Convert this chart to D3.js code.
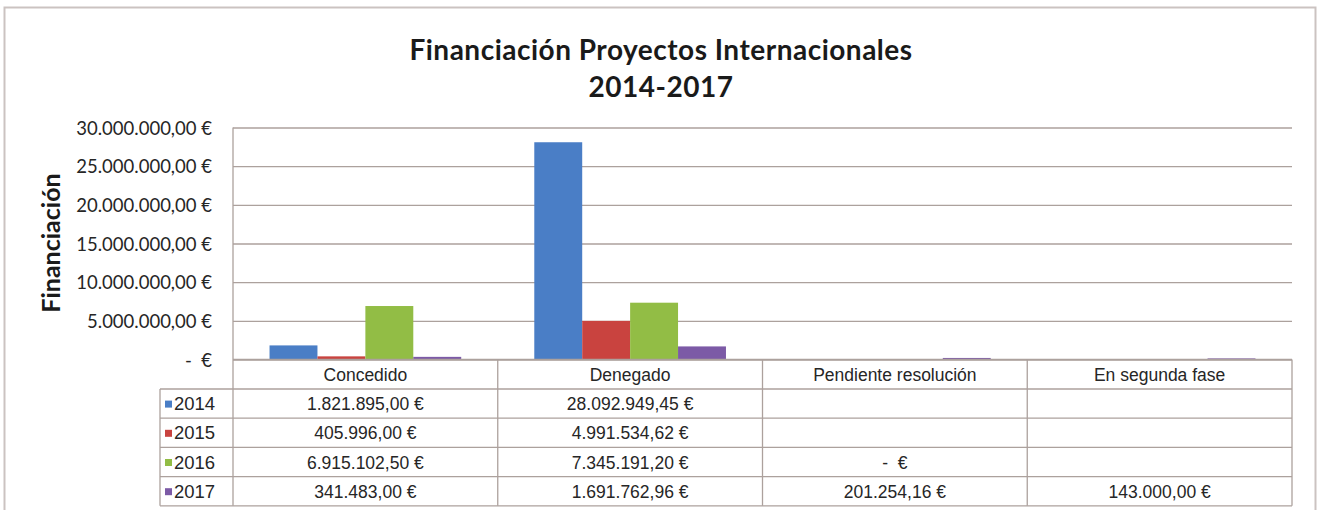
<!DOCTYPE html>
<html>
<head>
<meta charset="utf-8">
<script src="https://cdn.jsdelivr.net/npm/d3@7"></script>
<style>
  body { margin: 0; background: #fff; }
  svg { display: block; }
  text { white-space: pre; }
</style>
</head>
<body>
<svg id="chart"></svg>
<script>
// data
const categories = ["Concedido", "Denegado", "Pendiente resolución", "En segunda fase"];
const years = ["2014", "2015", "2016", "2017"];
const values2014 = [1821895.00, 28092949.45, null, null];
const values2015 = [405996.00, 4991534.62, null, null];
const values2016 = [6915102.50, 7345191.20, 0, null];
const values2017 = [341483.00, 1691762.96, 201254.16, 143000.00];
const yTicks = [0, 5000000, 10000000, 15000000, 20000000, 25000000, 30000000];

const series = [values2014, values2015, values2016, values2017];
const colors = ["#4a7ec6", "#c9433f", "#92bd45", "#7c5aa6"];

const width = 1322, height = 510;
const plotLeft = 233, plotRight = 1292, plotTop = 127.5, plotBottom = 359.5;
const headerBottom = 389, rowH = 29.2;
const gridColor = "#aca19d";

const locale = d3.formatLocale({decimal: ",", thousands: ".", grouping: [3], currency: ["", " €"]});
const money = locale.format("$,.2f");
const fmt = v => v === 0 ? "-  €" : money(v);

const svg = d3.select("#chart")
    .attr("width", width)
    .attr("height", height)
    .attr("viewBox", [0, 0, width, height]);

// outer frame
svg.append("rect")
    .attr("x", 4.5).attr("y", 7.5)
    .attr("width", 1311).attr("height", 520)
    .attr("fill", "none")
    .attr("stroke", "#cbc3c1")
    .attr("stroke-width", 2);

const x0 = d3.scaleBand().domain(categories).range([plotLeft, plotRight]);
const bw = x0.bandwidth();
const x1 = d3.scaleBand().domain(years).range([bw * 0.138, bw * 0.862]);
const y = d3.scaleLinear().domain([0, 30000000]).range([plotBottom, plotTop]);

// grid
const grid = svg.append("g")
    .attr("transform", `translate(${plotLeft},0)`)
    .call(d3.axisLeft(y).tickValues(yTicks).tickSize(-(plotRight - plotLeft)).tickFormat(""));
grid.select(".domain").remove();
grid.selectAll("line").attr("stroke", gridColor).attr("stroke-width", 1.3);

// y labels
const yAxis = svg.append("g")
    .attr("transform", `translate(212,0)`)
    .call(d3.axisLeft(y).tickValues(yTicks).tickSize(0).tickPadding(0).tickFormat(fmt));
yAxis.select(".domain").remove();
yAxis.selectAll("text")
    .attr("font-family", "Lato, 'Open Sans', sans-serif")
    .attr("font-size", 18.5)
    .attr("fill", "#262626")
    .attr("dy", "0.36em");

// bars
const rows = years.map((yr, i) => categories.map((c, j) => ({year: yr, cat: c, value: series[i][j], i})));
svg.append("g")
    .selectAll("g")
    .data(rows)
    .join("g")
    .attr("fill", (d, i) => colors[i])
    .selectAll("rect")
    .data(d => d.filter(e => e.value !== null))
    .join("rect")
    .attr("x", d => x0(d.cat) + x1(d.year))
    .attr("y", d => y(d.value))
    .attr("width", x1.bandwidth())
    .attr("height", d => y(0) - y(d.value));

// plot left border and axis line
const lines = svg.append("g").attr("stroke", gridColor).attr("stroke-width", 1.3);
lines.append("line").attr("x1", plotLeft).attr("x2", plotLeft).attr("y1", plotTop).attr("y2", headerBottom + rowH * 4);
lines.append("line").attr("x1", plotLeft).attr("x2", plotRight).attr("y1", plotBottom).attr("y2", plotBottom);

// data table
const tableFont = "'Liberation Sans', Arial, sans-serif";
const rowY = d3.range(5).map(i => headerBottom + i * rowH);
rowY.forEach(ry => {
    lines.append("line").attr("x1", 160).attr("x2", plotRight).attr("y1", ry).attr("y2", ry);
});
lines.append("line").attr("x1", 160).attr("x2", 160).attr("y1", headerBottom).attr("y2", rowY[4]);
categories.forEach(c => {
    const xe = x0(c) + bw;
    lines.append("line").attr("x1", xe).attr("x2", xe).attr("y1", plotBottom).attr("y2", rowY[4]);
});

svg.append("g")
    .selectAll("text")
    .data(categories)
    .join("text")
    .attr("x", d => x0(d) + bw / 2)
    .attr("y", (plotBottom + headerBottom) / 2 + 6.5)
    .attr("text-anchor", "middle")
    .attr("font-family", tableFont)
    .attr("font-size", 17.5)
    .attr("fill", "#262626")
    .text(d => d);

const legend = svg.append("g")
    .selectAll("g")
    .data(years)
    .join("g")
    .attr("transform", (d, i) => `translate(0,${rowY[i] + rowH / 2})`);
legend.append("rect")
    .attr("x", 165).attr("y", -3)
    .attr("width", 7).attr("height", 7)
    .attr("fill", (d, i) => colors[i]);
legend.append("text")
    .attr("x", 174).attr("y", 6.5)
    .attr("font-family", tableFont)
    .attr("font-size", 18.5)
    .attr("fill", "#262626")
    .text(d => d);

svg.append("g")
    .selectAll("text")
    .data(rows.flat().filter(d => d.value !== null))
    .join("text")
    .attr("x", d => x0(d.cat) + bw / 2)
    .attr("y", d => rowY[d.i] + rowH / 2 + 6.5)
    .attr("text-anchor", "middle")
    .attr("font-family", tableFont)
    .attr("font-size", 17.5)
    .attr("fill", "#262626")
    .text(d => fmt(d.value));

// titles
const title = svg.append("text")
    .attr("x", 661)
    .attr("text-anchor", "middle")
    .attr("font-family", "Lato, sans-serif")
    .attr("font-weight", "bold")
    .attr("font-size", 28)
    .attr("letter-spacing", 0.5)
    .attr("fill", "#1a1a1a");
title.append("tspan").attr("x", 661).attr("y", 60).text("Financiación Proyectos Internacionales");
title.append("tspan").attr("x", 661).attr("y", 97).text("2014-2017");

svg.append("text")
    .attr("transform", "translate(60,243) rotate(-90)")
    .attr("text-anchor", "middle")
    .attr("font-family", "Lato, sans-serif")
    .attr("font-weight", "bold")
    .attr("font-size", 25)
    .attr("fill", "#1a1a1a")
    .text("Financiación");
</script>
</body>
</html>
